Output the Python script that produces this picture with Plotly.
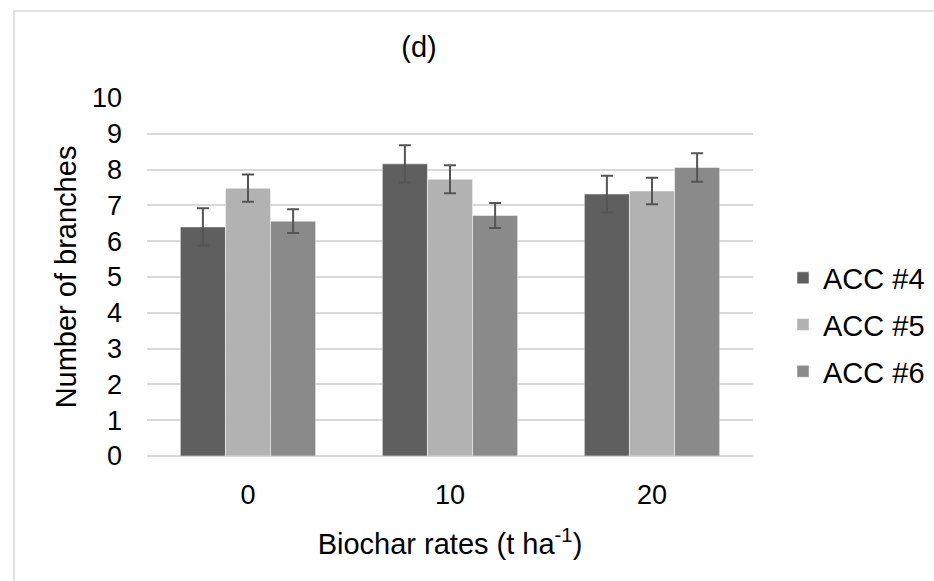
import plotly.graph_objects as go

categories = ["0", "10", "20"]
series_names = ["ACC #4", "ACC #5", "ACC #6"]
acc4 = [6.40, 8.16, 7.32]
acc5 = [7.48, 7.73, 7.40]
acc6 = [6.56, 6.72, 8.06]
err4 = [0.52, 0.52, 0.51]
err5 = [0.38, 0.39, 0.37]
err6 = [0.33, 0.35, 0.40]
colors = ["#5f5f5f", "#b2b2b2", "#8a8a8a"]

W, H = 934, 581
L, R, T, B = 147, 181, 98, 125
pw, ph = W - L - R, H - T - B

font = "Liberation Sans, Arial, sans-serif"
fs_tick = 27
fs_text = 29
fig = go.Figure()
for name, vals, errs, col in zip(series_names, [acc4, acc5, acc6], [err4, err5, err6], colors):
    fig.add_trace(go.Bar(
        x=categories, y=vals, name=name, legendgroup=name,
        marker=dict(color=col, line=dict(color="white", width=0.5)),
        error_y=dict(type="data", array=errs, visible=True, color="#555555", thickness=2, width=6),
    ))

fig.update_layout(
    width=W, height=H,
    margin=dict(l=L, r=R, t=T, b=B, autoexpand=False),
    paper_bgcolor="white", plot_bgcolor="white",
    barmode="group", bargap=0.33, bargroupgap=0,
    font=dict(family=font, size=fs_tick, color="black"),
    title=dict(text="(d)", x=419 / W, xanchor="center", xref="container",
               y=1 - 47 / H, yanchor="middle", yref="container",
               font=dict(family=font, size=fs_text, color="black")),
    showlegend=True,
    legend=dict(x=(783 - L) / pw, xanchor="left", y=(T + ph - 325) / ph, yanchor="middle",
                yref="paper", font=dict(family=font, size=fs_text, color="black"),
                tracegroupgap=6, bgcolor="rgba(0,0,0,0)", itemwidth=30),
    xaxis=dict(type="category", showgrid=False, zeroline=False, showline=False,
               ticks="", ticklabelstandoff=20,
               title=dict(text="Biochar rates (t ha<sup>-1</sup>)", standoff=24,
                          font=dict(family=font, size=fs_text, color="black"))),
    yaxis=dict(range=[0, 10], dtick=1, showgrid=True, gridcolor="#d9d9d9", gridwidth=1.5,
               zeroline=True, zerolinecolor="#d9d9d9", zerolinewidth=1.5,
               showline=False, ticks="", ticklabelstandoff=24,
               title=dict(text="Number of branches", standoff=6,
                          font=dict(family=font, size=fs_text, color="black"))),
    shapes=[dict(type="rect", xref="paper", yref="paper",
                 x0=(14 - L) / pw, x1=(W + 20 - L) / pw,
                 y0=-(H - (T + ph) + 20) / ph, y1=(T + ph - 11) / ph,
                 line=dict(color="#d9d9d9", width=1.5), fillcolor="rgba(0,0,0,0)", layer="below")],
)

fig.write_html("out.html")
